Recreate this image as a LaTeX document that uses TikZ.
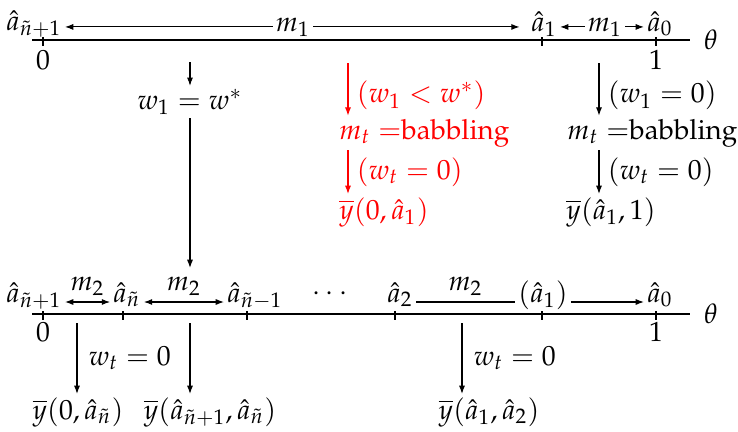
\documentclass[tikz,border=0pt]{standalone}
\usepackage[T1]{fontenc}
\usepackage{mathpazo}
\usetikzlibrary{arrows.meta}
\newcommand{\pplbab}{{\fontencoding{T1}\fontfamily{pplx}\selectfont babbling}}
\begin{document}
\begin{tikzpicture}[x=0.36pt,y=-0.36pt,
  every node/.style={inner sep=1pt},
  arr/.style={-{Latex[length=3pt,width=2.2pt]}},
  darr/.style={{Latex[length=3pt,width=2.2pt]}-{Latex[length=3pt,width=2.2pt]}},
  axisline/.style={line width=0.45pt},
  tickmark/.style={line width=0.4pt},
  lab/.style={anchor=base},
  red/.style={color=red},
]
\useasboundingbox (0,0) rectangle (738,432);
% ---------- top axis ----------
\coordinate (T0) at (32,40); \coordinate (T1) at (690,40);
\draw[axisline] (T0) -- (T1);
\node (thT) at (711,40) {$\theta$};
\foreach \x in {43,542,656} \draw[tickmark] (\x,37) -- (\x,46);
\node (zT) at (43,60) {$0$};
\node (oT) at (656,60) {$1$};
\node[lab] (an1) at (34,30) {$\hat a_{\tilde n+1}$};
\node[lab] (m1) at (293,31) {$m_1$};
\node[lab] (a1) at (544,31) {$\hat a_1$};
\node[lab] (m1b) at (605,31) {$m_1$};
\node[lab] (a0) at (660,31) {$\hat a_0$};
\draw[arr] (m1.west) -- (m1.west -| an1.east);
\draw[arr,shorten >=3pt] (m1.east) -- (m1.east -| a1.west);
\draw[arr] (m1b.west) -- (m1b.west -| a1.east);
\draw[arr] (m1b.east) -- (m1b.east -| a0.west);
% ---------- left column ----------
\coordinate (c1) at (190,62);
\node (w1) at (190,102) {$w_1 = w^*$};
\coordinate (m2top) at (190,268);
\draw[arr] (c1) -- (w1.north);
\draw[arr] (w1.south) -- (m2top);
% ---------- red column ----------
\coordinate (r0) at (348,63);
\node[red,anchor=west] (mtR) at (336,133) {$m_t =$\pplbab};
\node[red,anchor=west] (yR) at (336,212) {$\overline{y}(0,\hat a_1)$};
\draw[arr,red] (r0) -- (r0 |- mtR.north) node[pos=0.62,right,inner sep=3pt] {$(w_1 < w^*)$};
\draw[arr,red] (r0 |- mtR.south) -- (r0 |- yR.north) node[pos=0.5,right,inner sep=3pt] {$(w_t = 0)$};
% ---------- right column ----------
\coordinate (b0) at (599,63);
\node[anchor=west] (mtB) at (564,133) {$m_t =$\pplbab};
\node[anchor=west] (yB) at (563,212) {$\overline{y}(\hat a_1,1)$};
\draw[arr] (b0) -- (b0 |- mtB.north) node[pos=0.62,right,inner sep=3pt] {$(w_1 = 0)$};
\draw[arr] (b0 |- mtB.south) -- (b0 |- yB.north) node[pos=0.5,right,inner sep=3pt] {$(w_t = 0)$};
% ---------- bottom axis ----------
\coordinate (B0) at (32,314); \coordinate (B1) at (690,314);
\draw[axisline] (B0) -- (B1);
\node (thB) at (711,314) {$\theta$};
\foreach \x in {43,123,247,395,542,656} \draw[tickmark] (\x,311) -- (\x,320);
\node (zB) at (43,332) {$0$};
\node (oB) at (656,332) {$1$};
\node[lab] (bn1) at (34,302) {$\hat a_{\tilde n+1}$};
\node[lab] (bn) at (127,302) {$\hat a_{\tilde n}$};
\node[lab] (bnm) at (255,302) {$\hat a_{\tilde n-1}$};
\node (dots) at (330,294) {$\cdots$};
\node[lab] (b2) at (400,302) {$\hat a_2$};
\node[lab] (b1) at (543,302) {$(\hat a_1)$};
\node[lab] (b0n) at (660,302) {$\hat a_0$};
\draw[darr] (bn1.base east) -- (bn.base west) node[midway,above,inner sep=2pt] {$m_2$};
\draw[darr] (bn.base east) -- (bnm.base west) node[midway,above,inner sep=2pt] {$m_2$};
\draw (b2.base east) -- (b1.base west) node[midway,above,inner sep=2pt] {$m_2$};
\draw[arr] (b1.base east) -- (b0n.base west);
% ---------- bottom arrows ----------
\node (y1) at (78,412) {$\overline{y}(0,\hat a_{\tilde n})$};
\node (y2) at (210,412) {$\overline{y}(\hat a_{\tilde n+1},\hat a_{\tilde n})$};
\node (y3) at (489,412) {$\overline{y}(\hat a_1,\hat a_2)$};
\coordinate (d1) at (77,323);
\coordinate (d2) at (190,323);
\coordinate (d3) at (462,323);
\draw[arr] (d1) -- (d1 |- y1.north) node[midway,right,inner sep=4pt] {$w_t = 0$};
\draw[arr] (d2) -- (d2 |- y2.north);
\draw[arr] (d3) -- (d3 |- y3.north) node[midway,right,inner sep=4pt] {$w_t = 0$};
\end{tikzpicture}
\end{document}
